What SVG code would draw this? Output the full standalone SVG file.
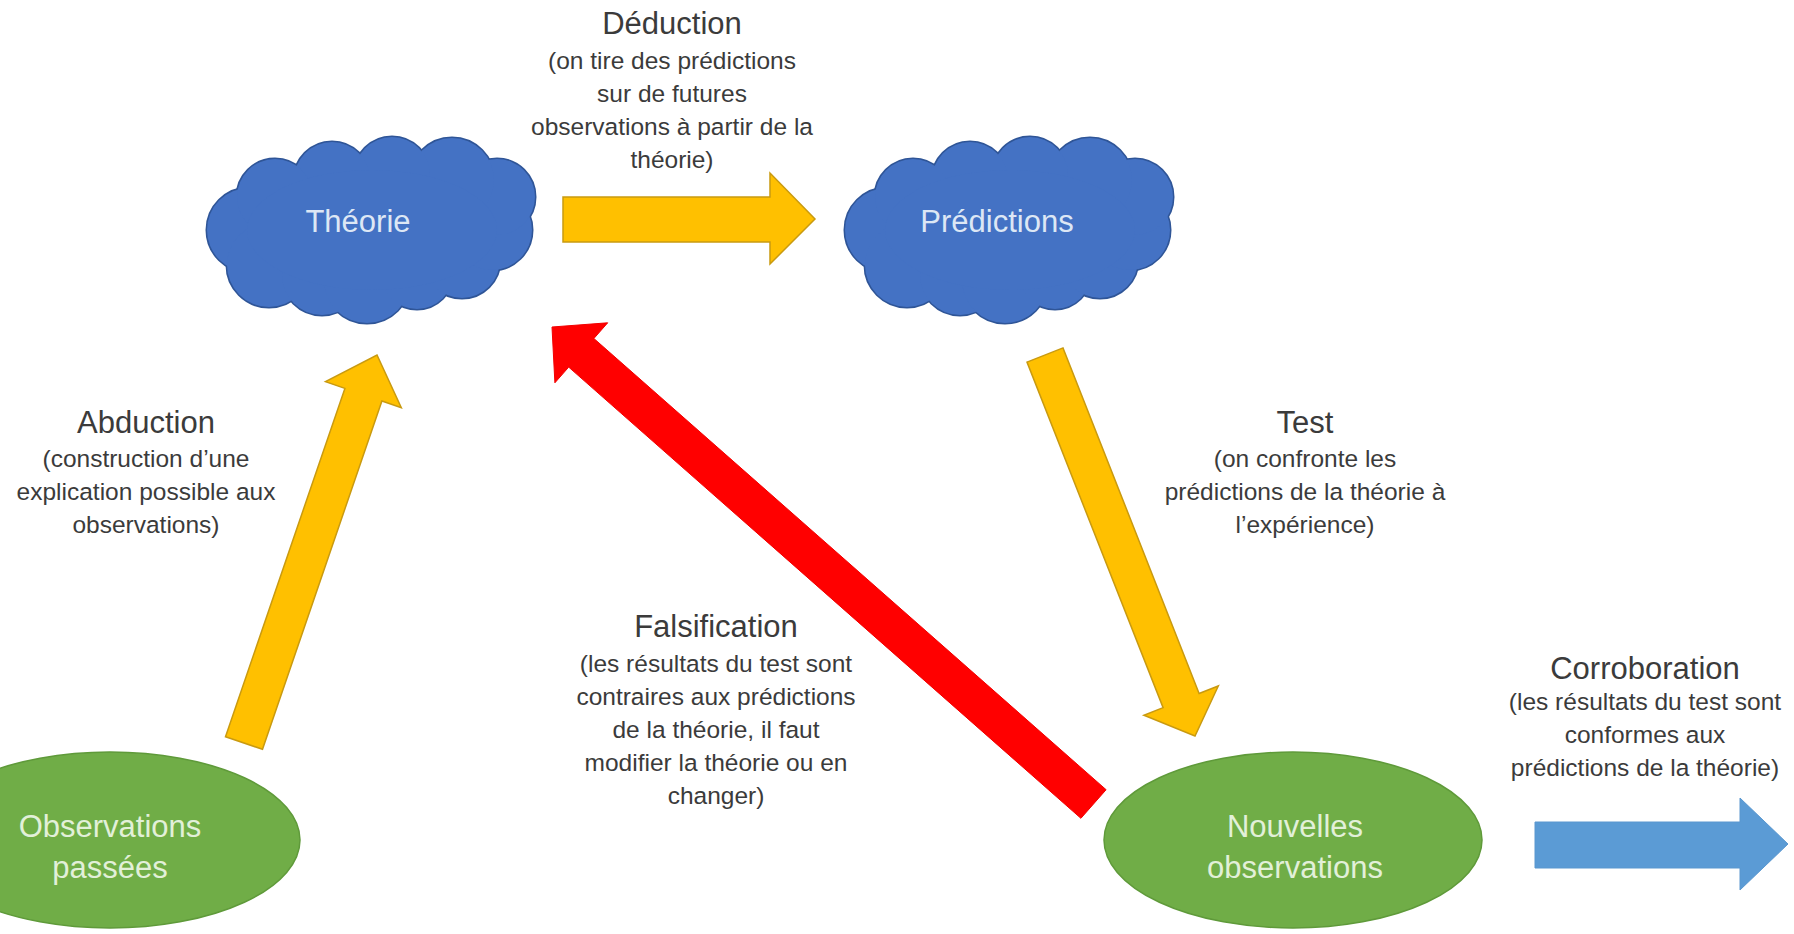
<svg xmlns="http://www.w3.org/2000/svg" xmlns:xlink="http://www.w3.org/1999/xlink" width="1794" height="934" viewBox="0 0 1794 934">
<style>
  .cloud-outline { fill: #3a66b4; stroke: #2f5597; stroke-width: 3; }
  .cloud-fill { fill: #4472c4; stroke: none; }
  .ellipse { fill: #70ad47; stroke: #5f9a3a; stroke-width: 1.5; }
  .node-text-blue { font-family: "Liberation Sans", Arial, sans-serif; font-size: 31px; fill: #dde7f5; text-anchor: middle; }
  .node-text-green { font-family: "Liberation Sans", Arial, sans-serif; font-size: 31px; fill: #e2f0d9; text-anchor: middle; }
  .arrow-yellow { fill: #ffc000; stroke: #c99a10; stroke-width: 1.5; stroke-linejoin: miter; }
  .arrow-red { fill: #ff0000; stroke: #f20000; stroke-width: 1; }
  .arrow-blue { fill: #5b9bd5; stroke: #5a97cf; stroke-width: 1; }
  .label-title { font-family: "Liberation Sans", Arial, sans-serif; font-size: 31px; fill: #3b3b3b; text-anchor: middle; }
  .label-sub { font-family: "Liberation Sans", Arial, sans-serif; font-size: 24.5px; fill: #3b3b3b; text-anchor: middle; }
</style>
<defs>
  <g id="cloudShape">
    <circle cx="42" cy="95" r="42"/>
    <circle cx="62" cy="130" r="42"/>
    <circle cx="115" cy="140" r="40"/>
    <circle cx="160" cy="145" r="43"/>
    <circle cx="210" cy="138" r="36"/>
    <circle cx="255" cy="125" r="38"/>
    <circle cx="285" cy="95" r="40"/>
    <circle cx="290" cy="62" r="38"/>
    <circle cx="245" cy="45" r="42"/>
    <circle cx="185" cy="40" r="38"/>
    <circle cx="125" cy="45" r="38"/>
    <circle cx="68" cy="62" r="38"/>
    <ellipse cx="165" cy="95" rx="125" ry="60"/>
  </g>
</defs>
<rect x="0" y="0" width="1794" height="934" fill="#ffffff"/>

<g id="connectors">
  <polygon id="arrow-deduction" class="arrow-yellow" points="563,197 770,197 770,173 815,219 770,264 770,242 563,242"/>
  <polygon id="arrow-test" class="arrow-yellow" points="1027.0,362.1 1063.0,347.9 1199.1,693.5 1218.3,686.0 1195,736 1143.9,715.3 1163.1,707.7"/>
  <polygon id="arrow-abduction" class="arrow-yellow" points="225.5,736.7 262.5,749.3 381.9,401.0 401.3,407.7 377,355 325.5,381.7 344.9,388.4"/>
  <polygon id="arrow-falsification" class="arrow-red" points="1106.1,789.7 1080.9,818.3 568.7,367.1 554.9,382.8 552,327 607.7,322.8 593.9,338.5"/>
  <polygon id="arrow-corroboration" class="arrow-blue" points="1535,822 1740,822 1740,798 1788,844 1740,890 1740,868 1535,868"/>
</g>

<g id="node-theorie">
  <g transform="translate(207,135)">
    <use xlink:href="#cloudShape" class="cloud-outline"/>
    <use xlink:href="#cloudShape" class="cloud-fill"/>
  </g>
  <text class="node-text-blue" x="358" y="232">Théorie</text>
</g>

<g id="node-predictions">
  <g transform="translate(845,135)">
    <use xlink:href="#cloudShape" class="cloud-outline"/>
    <use xlink:href="#cloudShape" class="cloud-fill"/>
  </g>
  <text class="node-text-blue" x="997" y="232">Prédictions</text>
</g>

<g id="node-observations-passees">
  <ellipse class="ellipse" cx="110" cy="840" rx="190" ry="88"/>
  <text class="node-text-green" x="110" y="837">Observations</text>
  <text class="node-text-green" x="110" y="878">passées</text>
</g>

<g id="node-nouvelles-observations">
  <ellipse class="ellipse" cx="1293" cy="840" rx="189" ry="88"/>
  <text class="node-text-green" x="1295" y="837">Nouvelles</text>
  <text class="node-text-green" x="1295" y="878">observations</text>
</g>

<g id="labels">
  <g id="label-deduction">
    <text class="label-title" x="672" y="34">Déduction</text>
    <text class="label-sub" x="672" y="69">(on tire des prédictions</text>
    <text class="label-sub" x="672" y="102">sur de futures</text>
    <text class="label-sub" x="672" y="135">observations à partir de la</text>
    <text class="label-sub" x="672" y="168">théorie)</text>
  </g>
  <g id="label-abduction">
    <text class="label-title" x="146" y="433">Abduction</text>
    <text class="label-sub" x="146" y="467">(construction d’une</text>
    <text class="label-sub" x="146" y="500">explication possible aux</text>
    <text class="label-sub" x="146" y="533">observations)</text>
  </g>
  <g id="label-test">
    <text class="label-title" x="1305" y="433">Test</text>
    <text class="label-sub" x="1305" y="467">(on confronte les</text>
    <text class="label-sub" x="1305" y="500">prédictions de la théorie à</text>
    <text class="label-sub" x="1305" y="533">l’expérience)</text>
  </g>
  <g id="label-falsification">
    <text class="label-title" x="716" y="637">Falsification</text>
    <text class="label-sub" x="716" y="672">(les résultats du test sont</text>
    <text class="label-sub" x="716" y="705">contraires aux prédictions</text>
    <text class="label-sub" x="716" y="738">de la théorie, il faut</text>
    <text class="label-sub" x="716" y="771">modifier la théorie ou en</text>
    <text class="label-sub" x="716" y="804">changer)</text>
  </g>
  <g id="label-corroboration">
    <text class="label-title" x="1645" y="679">Corroboration</text>
    <text class="label-sub" x="1645" y="710">(les résultats du test sont</text>
    <text class="label-sub" x="1645" y="743">conformes aux</text>
    <text class="label-sub" x="1645" y="776">prédictions de la théorie)</text>
  </g>
</g>
</svg>
